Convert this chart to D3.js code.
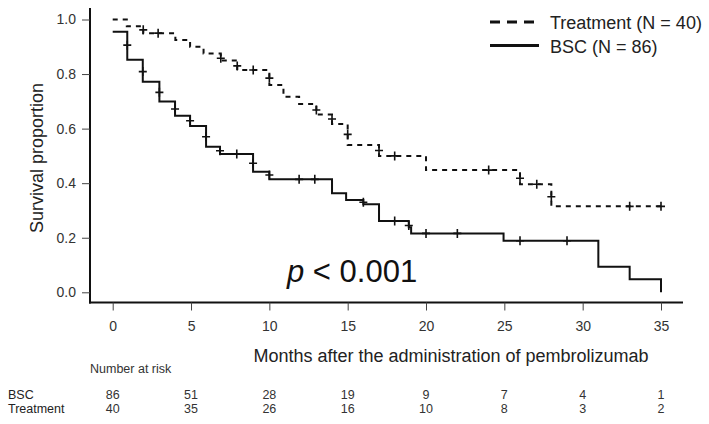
<!DOCTYPE html>
<html>
<head>
<meta charset="utf-8">
<script src="https://cdn.jsdelivr.net/npm/d3@7"></script>
<style>
  html, body { margin: 0; padding: 0; background: #fff; }
  svg { display: block; font-family: Arial, "Liberation Sans", sans-serif; }
</style>
</head>
<body>
<svg id="chart" width="709" height="424"></svg>
<script>
// ---- data ----
const xTicks = [0, 5, 10, 15, 20, 25, 30, 35];
const yTicks = [0.0, 0.2, 0.4, 0.6, 0.8, 1.0];

const bscTimes = [0, 0.93, 1.92, 2.98, 3.98, 4.94, 5.96, 6.85, 8.96, 10.0, 14.0, 14.9, 16.0, 17.0, 18.9, 19.05, 24.95, 31.0, 33.0, 35.0];
const bscSurv  = [0.955, 0.852, 0.772, 0.699, 0.647, 0.610, 0.534, 0.507, 0.442, 0.414, 0.363, 0.338, 0.323, 0.261, 0.238, 0.216, 0.189, 0.094, 0.048, 0.0];
const bscCensorT = [0.93, 1.92, 2.98, 3.98, 4.94, 5.96, 6.85, 7.92, 8.96, 10.0, 11.9, 12.9, 16.0, 18.0, 18.9, 20.0, 22.0, 26.0, 29.0];
const bscCensorS = [0.906, 0.809, 0.733, 0.672, 0.629, 0.570, 0.519, 0.507, 0.473, 0.430, 0.414, 0.414, 0.330, 0.261, 0.245, 0.216, 0.216, 0.189, 0.189];

const trtTimes = [0, 0.9, 1.95, 4.0, 4.94, 5.8, 6.9, 7.95, 10.0, 10.9, 11.9, 13.0, 14.0, 15.0, 17.0, 20.0, 26.0, 28.0, 35.0];
const trtSurv  = [1.0, 0.975, 0.95, 0.925, 0.9, 0.875, 0.85, 0.815, 0.76, 0.717, 0.69, 0.652, 0.617, 0.54, 0.50, 0.448, 0.396, 0.315, 0.315];
const trtCensorT = [1.95, 2.9, 6.9, 7.95, 8.97, 10.0, 13.0, 14.0, 15.0, 17.0, 18.0, 24.0, 26.0, 27.07, 28.0, 33.0, 35.0];
const trtCensorS = [0.962, 0.95, 0.858, 0.83, 0.815, 0.785, 0.668, 0.635, 0.579, 0.52, 0.50, 0.448, 0.418, 0.396, 0.35, 0.315, 0.315];

const riskGroups = ["BSC", "Treatment"];
const riskBSC = [86, 51, 28, 19, 9, 7, 4, 1];
const riskTrt = [40, 35, 26, 16, 10, 8, 3, 2];

const legendLabels = ["Treatment (N = 40)", "BSC (N = 86)"];
const pLabel = ["p", " < 0.001"];

// ---- layout ----
const svg = d3.select("#chart");
const x = d3.scaleLinear().domain([0, 35]).range([112.7, 661]);
const y = d3.scaleLinear().domain([0, 1]).range([292.3, 19.5]);
const axisY0 = 302.5, axisX0 = 90;

// axes lines
svg.append("line").attr("x1", axisX0).attr("x2", axisX0).attr("y1", 8).attr("y2", axisY0 + 1)
  .attr("stroke", "#111").attr("stroke-width", 2);
svg.append("line").attr("x1", axisX0 - 1).attr("x2", 683).attr("y1", axisY0).attr("y2", axisY0)
  .attr("stroke", "#111").attr("stroke-width", 2);

// y axis
const yAxis = d3.axisLeft(y).tickValues(yTicks).tickFormat(d3.format(".1f")).tickSize(8).tickPadding(6);
const gy = svg.append("g").attr("transform", `translate(${axisX0},0)`).call(yAxis);
gy.select(".domain").remove();
gy.selectAll(".tick line").attr("stroke", "#444").attr("stroke-width", 1);
gy.selectAll(".tick text").attr("font-size", 14).attr("fill", "#333").attr("font-family", "Arial, 'Liberation Sans', sans-serif");

// x axis
const xAxis = d3.axisBottom(x).tickValues(xTicks).tickFormat(d3.format("d")).tickSize(8).tickPadding(11);
const gx = svg.append("g").attr("transform", `translate(0,${axisY0})`).call(xAxis);
gx.select(".domain").remove();
gx.selectAll(".tick line").attr("stroke", "#444").attr("stroke-width", 1);
gx.selectAll(".tick text").attr("font-size", 14).attr("fill", "#333").attr("font-family", "Arial, 'Liberation Sans', sans-serif");

// axis titles
svg.append("text").attr("transform", "translate(43,158) rotate(-90)").attr("text-anchor", "middle")
  .attr("font-size", 18).attr("fill", "#222").text("Survival proportion");
svg.append("text").attr("x", 451).attr("y", 362).attr("text-anchor", "middle")
  .attr("font-size", 18).attr("fill", "#222").text("Months after the administration of pembrolizumab");

// curves
const line = d3.line().x(d => x(d[0])).y(d => y(d[1])).curve(d3.curveStepAfter);
const bscData = bscTimes.map((t, i) => [t, bscSurv[i]]);
const trtData = trtTimes.map((t, i) => [t, trtSurv[i]]);

svg.append("path").attr("d", line(bscData)).attr("fill", "none").attr("stroke", "#111").attr("stroke-width", 2);
svg.append("path").attr("d", line(trtData)).attr("fill", "none").attr("stroke", "#111").attr("stroke-width", 2)
  .attr("stroke-dasharray", "5,5");

// censor marks
function plus(t, s) {
  const cx = x(t), cy = y(s);
  return `M${cx - 4},${cy}H${cx + 4}M${cx},${cy - 4.5}V${cy + 4.5}`;
}
svg.append("g").selectAll("path").data(bscCensorT.map((t, i) => [t, bscCensorS[i]])).join("path")
  .attr("d", d => plus(d[0], d[1])).attr("stroke", "#111").attr("stroke-width", 1.6).attr("fill", "none");
svg.append("g").selectAll("path").data(trtCensorT.map((t, i) => [t, trtCensorS[i]])).join("path")
  .attr("d", d => plus(d[0], d[1])).attr("stroke", "#111").attr("stroke-width", 1.6).attr("fill", "none");

// legend
const leg = svg.append("g");
leg.append("line").attr("x1", 490).attr("x2", 539).attr("y1", 22).attr("y2", 22)
  .attr("stroke", "#111").attr("stroke-width", 3).attr("stroke-dasharray", "10,7");
leg.append("line").attr("x1", 490).attr("x2", 539).attr("y1", 45.5).attr("y2", 45.5)
  .attr("stroke", "#111").attr("stroke-width", 3);
leg.selectAll("text").data(legendLabels).join("text")
  .attr("x", 550).attr("y", (d, i) => 29 + i * 23.5)
  .attr("font-size", 18).attr("fill", "#222").text(d => d);

// p value
const pt = svg.append("text").attr("x", 287).attr("y", 282).attr("font-size", 31).attr("fill", "#111");
pt.append("tspan").attr("font-style", "italic").text(pLabel[0]);
pt.append("tspan").text(pLabel[1]);

// risk table
svg.append("text").attr("x", 90).attr("y", 373).attr("font-size", 12.5).attr("fill", "#333").text("Number at risk");
const rows = [riskBSC, riskTrt];
rows.forEach((vals, r) => {
  const yy = 398.5 + r * 14.5;
  svg.append("text").attr("x", 8).attr("y", yy).attr("font-size", 12.5).attr("fill", "#222").text(riskGroups[r]);
  svg.append("g").selectAll("text").data(vals).join("text")
    .attr("x", (d, i) => x(xTicks[i])).attr("y", yy).attr("text-anchor", "middle")
    .attr("font-size", 12.5).attr("fill", "#333").text(d => d);
});
</script>
</body>
</html>
